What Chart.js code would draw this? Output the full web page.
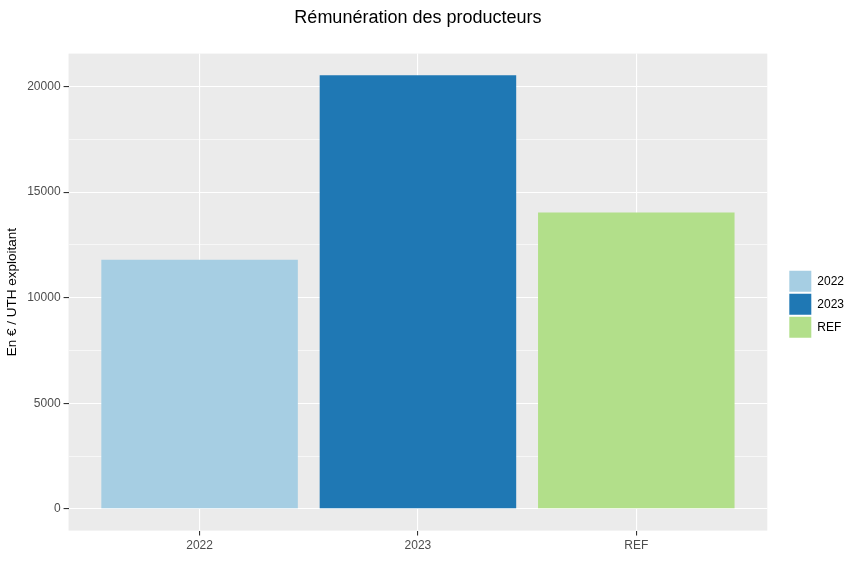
<!DOCTYPE html>
<html>
<head>
<meta charset="utf-8">
<script src="https://cdn.jsdelivr.net/npm/chart.js@4"></script>
<style>
  html, body { margin: 0; padding: 0; background: #fff; }
  #wrap { width: 862px; height: 575px; }
</style>
</head>
<body>
<div id="wrap"><canvas id="myBarChart"></canvas></div>
<script>
// Rémunération des producteurs (ggplot style)
var categories = ['2022', '2023', 'REF'];
var values = [11800, 20530, 14030];
var colors = ['#A6CEE3', '#1F78B4', '#B2DF8A'];
var yTicks = [0, 5000, 10000, 15000, 20000];

// ggplot expansion: 5% on y, 0.6 on discrete x
var yMax = Math.max.apply(null, values);
var yLo = -yMax * 0.05, yHi = yMax * 1.05;

// major + minor (midpoint) grid values
var yGrid = [];
yTicks.forEach(function(v, i) {
    yGrid.push(v);
    if (i < yTicks.length - 1) yGrid.push((v + yTicks[i + 1]) / 2);
});

var panelBg = {
    id: 'panelBg',
    beforeDraw: function(chart) {
        var a = chart.chartArea, c = chart.ctx;
        c.save();
        c.fillStyle = '#EBEBEB';
        c.fillRect(a.left, a.top, a.right - a.left, a.bottom - a.top);
        c.restore();
    }
};

var ctx = document.getElementById('myBarChart').getContext('2d');
var myBarChart = new Chart(ctx, {
    type: 'bar',
    data: {
        datasets: categories.map(function(c, i) {
            return {
                label: c,
                data: [{x: i + 1, y: values[i]}],
                backgroundColor: colors[i],
                borderWidth: 0
            };
        })
    },
    options: {
        responsive: true,
        maintainAspectRatio: false,
        animation: false,
        grouped: false,
        barPercentage: 0.9,
        categoryPercentage: 1,
        layout: { padding: { left: 0, right: 8, bottom: 19 } },
        plugins: {
            title: {
                display: true,
                text: 'Rémunération des producteurs',
                color: '#000',
                fullSize: false,
                font: { family: 'Liberation Sans, Arial', size: 18, weight: 'normal' },
                padding: { top: 7, bottom: 25 }
            },
            legend: {
                position: 'right',
                title: {
                    display: true,
                    text: '',
                    font: { size: 12 },
                    padding: { top: 38, bottom: 0 }
                },
                labels: {
                    boxWidth: 22,
                    boxHeight: 21,
                    padding: 2,
                    color: '#000',
                    font: { family: 'Liberation Sans, Arial', size: 12 }
                }
            },
            tooltip: { enabled: false }
        },
        scales: {
            x: {
                type: 'linear',
                min: 0.4,
                max: 3.6,
                offset: false,
                border: { display: false },
                grid: { offset: false, color: '#FFFFFF', lineWidth: 1.1, tickColor: '#333', tickLength: 5 },
                afterBuildTicks: function(s) {
                    s.ticks = categories.map(function(c, i) { return {value: i + 1}; });
                },
                ticks: {
                    padding: 3,
                    color: '#4D4D4D',
                    font: { family: 'Liberation Sans, Arial', size: 12 },
                    callback: function(v) { return categories[v - 1] || ''; }
                }
            },
            y: {
                min: yLo,
                max: yHi,
                border: { display: false },
                grid: {
                    color: '#FFFFFF',
                    lineWidth: function(c) { return yTicks.indexOf(c.tick.value) >= 0 ? 1.1 : 0.6; },
                    tickColor: function(c) { return yTicks.indexOf(c.tick.value) >= 0 ? '#333' : 'rgba(0,0,0,0)'; },
                    tickLength: 5
                },
                afterBuildTicks: function(s) {
                    s.ticks = yGrid.map(function(v) { return {value: v}; });
                },
                ticks: {
                    padding: 3,
                    color: '#4D4D4D',
                    font: { family: 'Liberation Sans, Arial', size: 12 },
                    callback: function(v) { return yTicks.indexOf(v) >= 0 ? String(v) : ''; }
                },
                title: {
                    display: true,
                    text: 'En € / UTH exploitant',
                    color: '#000',
                    font: { family: 'Liberation Sans, Arial', size: 13.5 },
                    padding: { top: 4, bottom: 4 }
                }
            },
            spacer: {
                position: 'right',
                display: true,
                grid: { display: false },
                border: { display: false },
                ticks: { display: false },
                afterFit: function(s) { s.width = 20; }
            }
        }
    },
    plugins: [panelBg]
});
</script>
</body>
</html>
